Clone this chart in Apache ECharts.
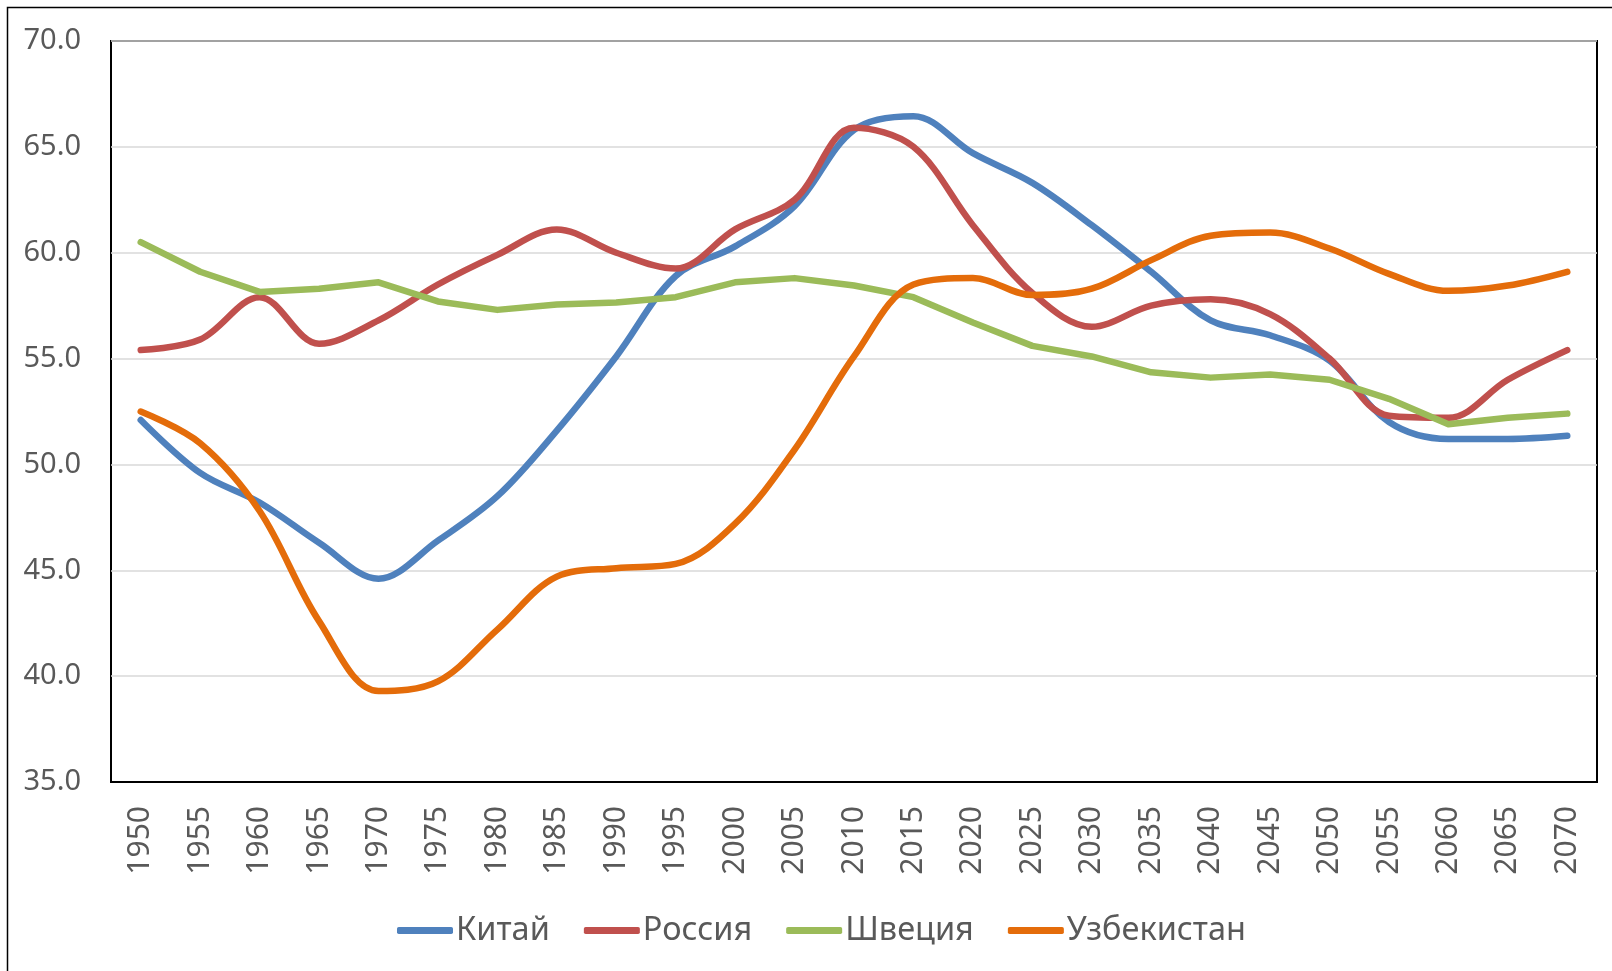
<!DOCTYPE html>
<html>
<head>
<meta charset="utf-8">
<script src="https://cdn.jsdelivr.net/npm/echarts@6/dist/echarts.min.js"></script>
<style>
  html, body { margin: 0; padding: 0; background: #fff; }
  #chart { width: 1612px; height: 971px; }
</style>
</head>
<body>
<div id="chart"></div>
<script>
// годы (ось X)
var years = ['1950','1955','1960','1965','1970','1975','1980','1985','1990','1995','2000','2005','2010',
             '2015','2020','2025','2030','2035','2040','2045','2050','2055','2060','2065','2070'];

var seriesNames = ['Китай', 'Россия', 'Швеция', 'Узбекистан'];

var china  = [52.1, 49.6, 48.2, 46.3, 44.6, 46.4, 48.5, 51.6, 55.1, 58.9, 60.3, 62.2, 65.8,
              66.45, 64.7, 63.3, 61.3, 59.1, 56.8, 56.1, 54.9, 52.0, 51.2, 51.2, 51.35];
var russia = [55.4, 55.9, 57.9, 55.7, 56.8, 58.5, 59.9, 61.1, 60.0, 59.25, 61.1, 62.5, 65.9,
              65.0, 61.3, 58.1, 56.5, 57.5, 57.8, 57.1, 55.0, 52.3, 52.2, 54.0, 55.4];
var sweden = [60.5, 59.1, 58.15, 58.3, 58.6, 57.7, 57.3, 57.55, 57.65, 57.9, 58.6, 58.8, 58.45,
              57.9, 56.7, 55.6, 55.1, 54.35, 54.1, 54.25, 54.0, 53.1, 51.9, 52.2, 52.4];
var uzbek  = [52.5, 51.0, 47.8, 42.6, 39.3, 39.75, 42.2, 44.7, 45.1, 45.3, 47.2, 50.7, 55.1,
              58.5, 58.8, 58.0, 58.3, 59.65, 60.8, 60.95, 60.2, 59.0, 58.2, 58.45, 59.1];

var colors = ['#4F81BD', '#C0504D', '#9BBB59', '#E46C0A'];
var font = 'Noto Sans';

function mkLine(name, data, color, smooth) {
  return {
    name: name,
    type: 'line',
    data: data,
    smooth: smooth,
    symbol: 'none',
    lineStyle: { color: color, width: 6.5, cap: 'round', join: 'round' },
    itemStyle: { color: color },
    emphasis: { disabled: true }
  };
}

var chart = echarts.init(document.getElementById('chart'), null, { renderer: 'canvas' });
chart.setOption({
  animation: false,
  color: colors,
  graphic: [{
    type: 'rect',
    silent: true,
    shape: { x: 7.5, y: 7.5, width: 1700, height: 1100 },
    style: { fill: 'none', stroke: '#000', lineWidth: 1.5 }
  }],
  grid: {
    left: 111, top: 41, right: 15, bottom: 189,
    show: true, borderColor: '#000', borderWidth: 2, backgroundColor: 'transparent'
  },
  legend: {
    data: seriesNames,
    left: 392,
    top: 909,
    icon: 'roundRect',
    itemWidth: 56,
    itemHeight: 7,
    itemGap: 34,
    textStyle: { fontFamily: font, fontSize: 32.5, color: '#595959', padding: [0, 0, 0, -2] }
  },
  xAxis: {
    type: 'category',
    data: years,
    boundaryGap: true,
    axisLine: { show: true, lineStyle: { color: '#000', width: 2 } },
    axisTick: { show: false },
    splitLine: { show: false },
    axisLabel: {
      rotate: 90,
      margin: 24,
      interval: 0,
      fontFamily: font,
      fontSize: 30,
      color: '#595959'
    }
  },
  yAxis: {
    type: 'value',
    min: 35,
    max: 70,
    interval: 5,
    axisLine: { show: false },
    axisTick: { show: false },
    splitLine: { show: true, lineStyle: { color: '#D9D9D9', width: 1.5 } },
    axisLabel: {
      margin: 30,
      fontFamily: font,
      fontSize: 29,
      color: '#595959',
      formatter: function (v) { return v.toFixed(1); }
    }
  },
  series: [
    mkLine(seriesNames[0], china, colors[0], 0.35),
    mkLine(seriesNames[1], russia, colors[1], 0.35),
    mkLine(seriesNames[2], sweden, colors[2], false),
    mkLine(seriesNames[3], uzbek, colors[3], 0.35)
  ]
});
</script>
</body>
</html>
